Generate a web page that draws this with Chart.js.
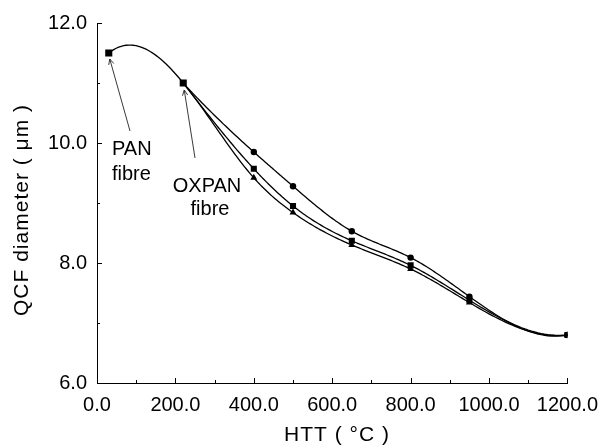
<!DOCTYPE html>
<html>
<head>
<meta charset="utf-8">
<script src="https://cdn.jsdelivr.net/npm/chart.js@4.4.1/dist/chart.umd.min.js"></script>
<style>
  html, body { margin: 0; padding: 0; background: #fff; }
  #wrap { width: 608px; height: 445px; position: relative; }
</style>
</head>
<body>
<div id="wrap"><canvas id="qcfChart"></canvas></div>
<script>
// precursor fibres (PAN, oxidised PAN)
const fibreHtt = [30, 220];
const fibreDia = [11.5, 11.0];

// heat treatment temperatures and QCF diameters for the three runs
const htt = [400, 500, 650, 800, 950, 1200];
const diaCircle = [9.85, 9.28, 8.53, 8.09, 7.44, 6.8];
const diaSquare = [9.57, 8.95, 8.37, 7.96, 7.38, 6.8];
const diaTriangle = [9.42, 8.84, 8.3, 7.9, 7.34, 6.8];

const FONT = "'Liberation Sans', Arial, sans-serif";

function toPoints(xs, ys) {
  return xs.map((x, i) => ({ x: x, y: ys[i] }));
}

// cubic spline, not-a-knot ends; returns second derivatives
function splineM(xs, ys) {
  const n = xs.length;
  const h = [], d = [];
  for (let i = 0; i < n - 1; i++) {
    h[i] = xs[i + 1] - xs[i];
    d[i] = (ys[i + 1] - ys[i]) / h[i];
  }
  const A = [];
  const b = new Array(n).fill(0);
  for (let i = 0; i < n; i++) A.push(new Array(n).fill(0));
  A[0][0] = h[1];
  A[0][1] = -(h[0] + h[1]);
  A[0][2] = h[0];
  for (let i = 1; i < n - 1; i++) {
    A[i][i - 1] = h[i - 1];
    A[i][i] = 2 * (h[i - 1] + h[i]);
    A[i][i + 1] = h[i];
    b[i] = 6 * (d[i] - d[i - 1]);
  }
  A[n - 1][n - 3] = h[n - 2];
  A[n - 1][n - 2] = -(h[n - 3] + h[n - 2]);
  A[n - 1][n - 1] = h[n - 3];

  // gaussian elimination
  for (let c = 0; c < n; c++) {
    let p = c;
    for (let r = c + 1; r < n; r++) {
      if (Math.abs(A[r][c]) > Math.abs(A[p][c])) p = r;
    }
    [A[c], A[p]] = [A[p], A[c]];
    [b[c], b[p]] = [b[p], b[c]];
    for (let r = c + 1; r < n; r++) {
      const f = A[r][c] / A[c][c];
      for (let k = c; k < n; k++) A[r][k] -= f * A[c][k];
      b[r] -= f * b[c];
    }
  }
  const M = new Array(n).fill(0);
  for (let r = n - 1; r >= 0; r--) {
    let s = b[r];
    for (let k = r + 1; k < n; k++) s -= A[r][k] * M[k];
    M[r] = s / A[r][r];
  }
  return M;
}

function drawSpline(ctx, xScale, yScale, xs, ys) {
  const M = splineM(xs, ys);
  ctx.beginPath();
  for (let i = 0; i < xs.length - 1; i++) {
    const h = xs[i + 1] - xs[i];
    const steps = 30;
    for (let s = 0; s <= steps; s++) {
      const x = xs[i] + (h * s) / steps;
      const a = xs[i + 1] - x;
      const c = x - xs[i];
      const y =
        (M[i] * a * a * a) / (6 * h) +
        (M[i + 1] * c * c * c) / (6 * h) +
        (ys[i] / h - (M[i] * h) / 6) * a +
        (ys[i + 1] / h - (M[i + 1] * h) / 6) * c;
      const px = xScale.getPixelForValue(x);
      const py = yScale.getPixelForValue(y);
      if (i === 0 && s === 0) ctx.moveTo(px, py);
      else ctx.lineTo(px, py);
    }
  }
  ctx.stroke();
}

function arrow(ctx, x1, y1, x2, y2) {
  const ang = Math.atan2(y2 - y1, x2 - x1);
  const len = 6;
  ctx.beginPath();
  ctx.moveTo(x1, y1);
  ctx.lineTo(x2, y2);
  ctx.moveTo(x2 - len * Math.cos(ang - 0.45), y2 - len * Math.sin(ang - 0.45));
  ctx.lineTo(x2, y2);
  ctx.lineTo(x2 - len * Math.cos(ang + 0.45), y2 - len * Math.sin(ang + 0.45));
  ctx.stroke();
}

const curvesPlugin = {
  id: "curves",
  beforeDatasetsDraw(chart) {
    const { ctx, scales: { x, y } } = chart;
    ctx.save();
    ctx.strokeStyle = "#000";
    ctx.lineWidth = 1.3;
    ctx.lineJoin = "round";
    drawSpline(ctx, x, y, [fibreHtt[1], ...htt], [fibreDia[1], ...diaCircle]);
    drawSpline(ctx, x, y, [fibreHtt[1], ...htt], [fibreDia[1], ...diaSquare]);
    drawSpline(ctx, x, y, [...fibreHtt, ...htt], [...fibreDia, ...diaTriangle]);
    ctx.restore();
  },
  afterDraw(chart) {
    const { ctx, chartArea: { left, bottom }, scales: { x, y } } = chart;
    ctx.save();
    ctx.strokeStyle = "#000";
    ctx.lineWidth = 1;

    // inward tick marks
    ctx.beginPath();
    for (let v = 0; v <= 1200; v += 100) {
      const px = Math.round(x.getPixelForValue(v)) + 0.5;
      const len = v % 200 === 0 ? 5 : 3;
      ctx.moveTo(px, bottom);
      ctx.lineTo(px, bottom - len);
    }
    for (let v = 6; v <= 12; v += 1) {
      const py = Math.round(y.getPixelForValue(v)) + 0.5;
      const len = v % 2 === 0 ? 5 : 3;
      ctx.moveTo(left, py);
      ctx.lineTo(left + len, py);
    }
    ctx.stroke();

    // axis titles
    ctx.fillStyle = "#000";
    ctx.textAlign = "center";
    ctx.textBaseline = "middle";
    ctx.font = "21px " + FONT;
    ctx.letterSpacing = "1px";
    ctx.fillText("HTT ( °C )", 337, 435);
    ctx.save();
    ctx.translate(22, 210);
    ctx.rotate(-Math.PI / 2);
    ctx.fillText("QCF diameter ( μm )", 0, 0);
    ctx.restore();
    ctx.letterSpacing = "0px";

    // fibre labels
    ctx.font = "20px " + FONT;
    ctx.textBaseline = "alphabetic";
    ctx.textAlign = "left";
    ctx.fillText("PAN", 112, 155);
    ctx.fillText("fibre", 112, 180);
    ctx.textAlign = "center";
    ctx.fillText("OXPAN", 207, 192);
    ctx.fillText("fibre", 210, 215);

    // arrows to the precursor points
    ctx.lineWidth = 0.9;
    ctx.strokeStyle = "#222";
    const panX = x.getPixelForValue(fibreHtt[0]);
    const panY = y.getPixelForValue(fibreDia[0]);
    const oxX = x.getPixelForValue(fibreHtt[1]);
    const oxY = y.getPixelForValue(fibreDia[1]);
    arrow(ctx, 130, 131, panX + 1, panY + 6);
    arrow(ctx, 195, 158, oxX + 1, oxY + 7);
    ctx.restore();
  },
};

const ctx = document.getElementById("qcfChart").getContext("2d");
const qcfChart = new Chart(ctx, {
  type: "scatter",
  data: {
    datasets: [
      {
        label: "fibre",
        data: toPoints(fibreHtt, fibreDia),
        pointStyle: "rect",
        pointRadius: 5,
        backgroundColor: "#000",
        borderColor: "#000",
        borderWidth: 0,
      },
      {
        label: "circle",
        data: toPoints(htt, diaCircle),
        pointStyle: "circle",
        pointRadius: 3.2,
        backgroundColor: "#000",
        borderColor: "#000",
        borderWidth: 0,
      },
      {
        label: "square",
        data: toPoints(htt, diaSquare),
        pointStyle: "rect",
        pointRadius: 4.3,
        backgroundColor: "#000",
        borderColor: "#000",
        borderWidth: 0,
      },
      {
        label: "triangle",
        data: toPoints(htt, diaTriangle),
        pointStyle: "triangle",
        pointRadius: 4,
        backgroundColor: "#000",
        borderColor: "#000",
        borderWidth: 0,
      },
    ],
  },
  options: {
    responsive: true,
    maintainAspectRatio: false,
    animation: false,
    layout: {
      padding: { left: 0, top: 23, right: 34, bottom: 0 },
    },
    scales: {
      x: {
        type: "linear",
        min: 0,
        max: 1200,
        afterFit(scale) {
          scale.height = 62;
        },
        ticks: {
          stepSize: 200,
          padding: 10,
          color: "#000",
          font: { size: 20, family: FONT },
          callback: (v) => v.toFixed(1),
        },
        grid: { display: false, drawTicks: false },
        border: { display: true, color: "#000", width: 1 },
      },
      y: {
        type: "linear",
        min: 6,
        max: 12,
        afterFit(scale) {
          scale.width = 97;
        },
        ticks: {
          stepSize: 2,
          padding: 10,
          color: "#000",
          font: { size: 20, family: FONT },
          callback: (v) => v.toFixed(1),
        },
        grid: { display: false, drawTicks: false },
        border: { display: true, color: "#000", width: 1 },
      },
    },
    plugins: {
      legend: { display: false },
      tooltip: { enabled: false },
    },
  },
  plugins: [curvesPlugin],
});
</script>
</body>
</html>
